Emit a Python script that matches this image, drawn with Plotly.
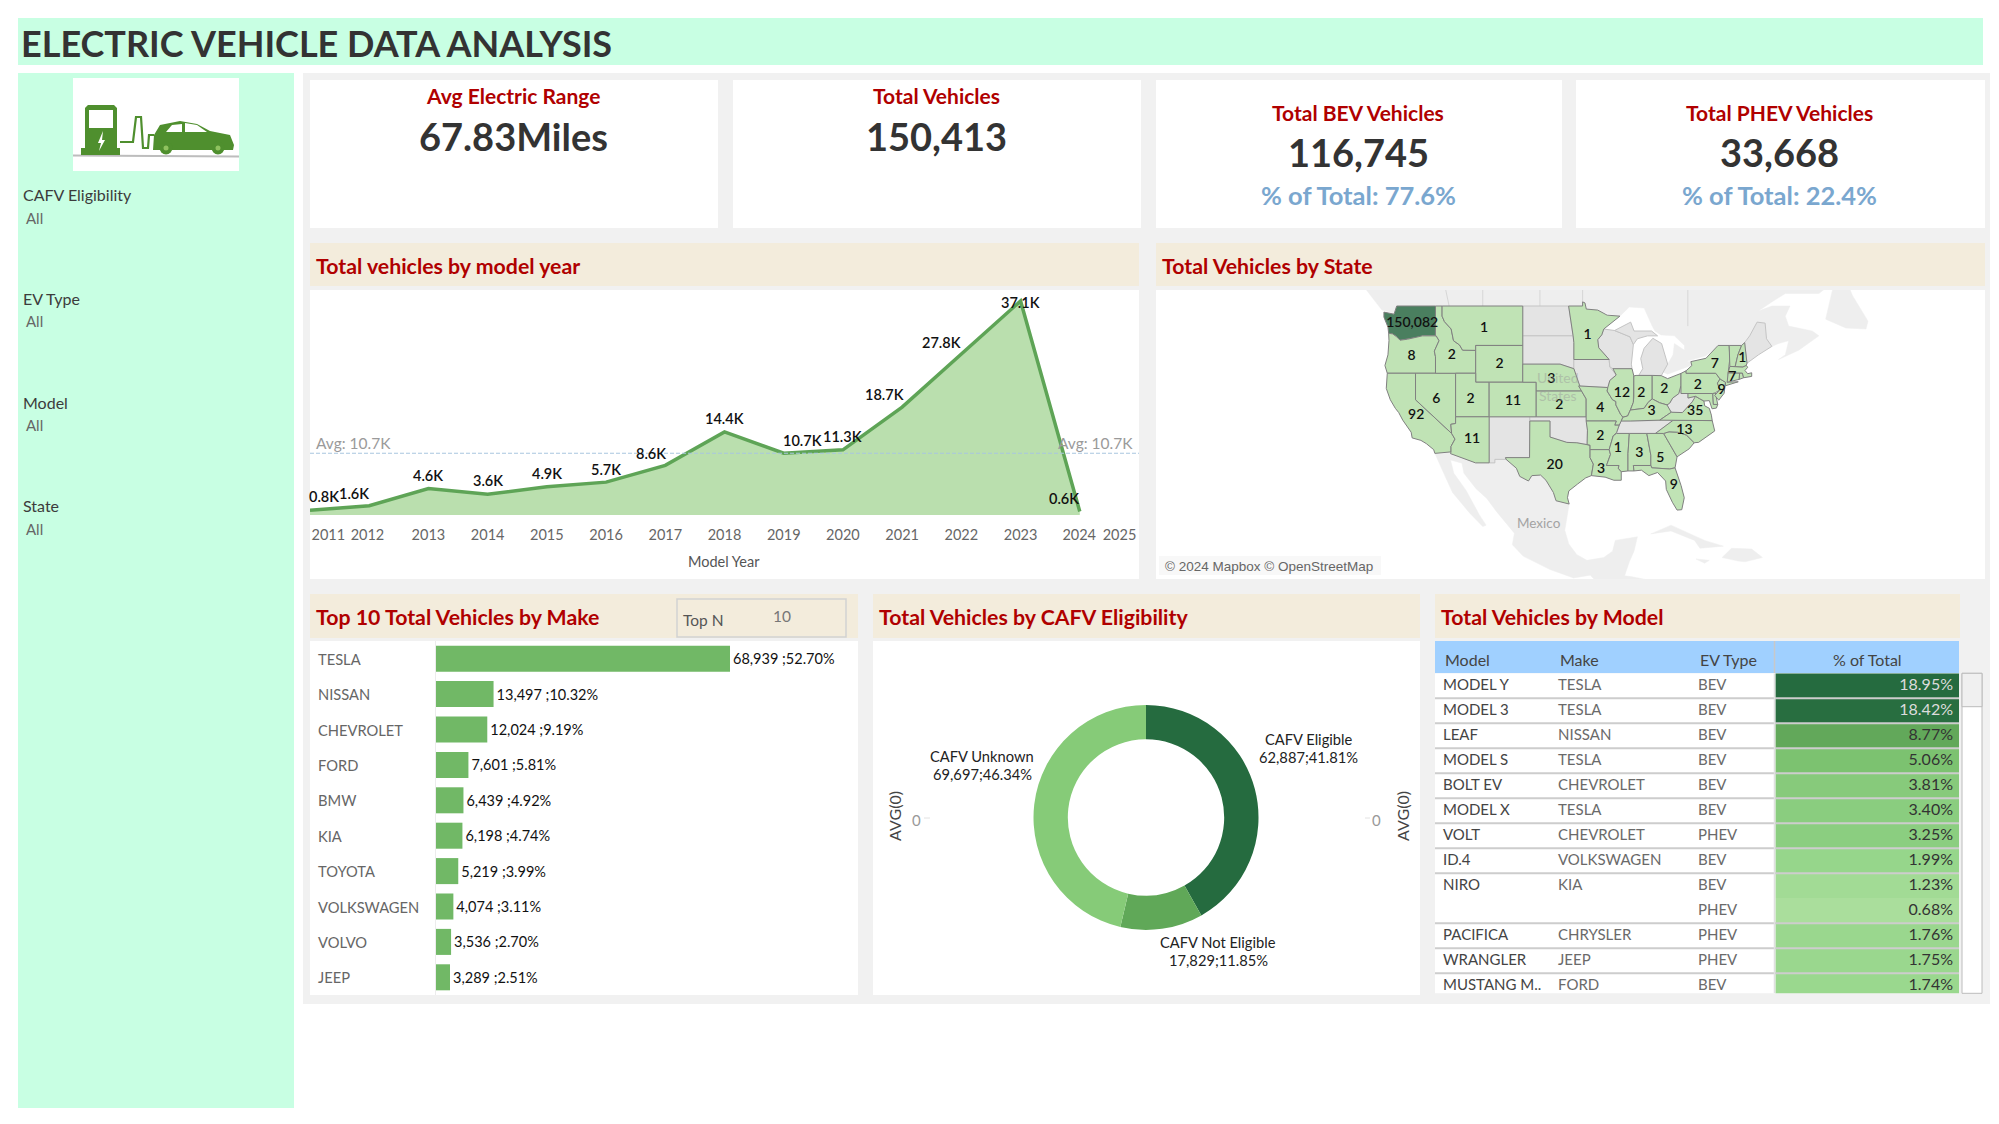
import math
import plotly.graph_objects as go

W, H = 1999, 1124
FONT = "Lato"

# ------------------ DATA ------------------
YEARS = [2011, 2012, 2013, 2014, 2015, 2016, 2017, 2018, 2019, 2020, 2021, 2022, 2023, 2024]
YEAR_TOTALS_K = [0.8, 1.6, 4.6, 3.6, 4.9, 5.7, 8.6, 14.4, 10.7, 11.3, 18.7, 27.8, 37.1, 0.6]
AVG_K = 10.7

MAKES = ["TESLA", "NISSAN", "CHEVROLET", "FORD", "BMW", "KIA", "TOYOTA", "VOLKSWAGEN", "VOLVO", "JEEP"]
MAKE_TOTALS = [68939, 13497, 12024, 7601, 6439, 6198, 5219, 4074, 3536, 3289]
MAKE_PCT = [52.70, 10.32, 9.19, 5.81, 4.92, 4.74, 3.99, 3.11, 2.70, 2.51]

CAFV_LABELS = ["CAFV Eligible", "CAFV Not Eligible", "CAFV Unknown"]
CAFV_TOTALS = [62887, 17829, 69697]
CAFV_PCT = [41.81, 11.85, 46.34]

TABLE_MODEL = ["MODEL Y", "MODEL 3", "LEAF", "MODEL S", "BOLT EV", "MODEL X", "VOLT", "ID.4", "NIRO", "", "PACIFICA", "WRANGLER", "MUSTANG M.."]
TABLE_MAKE = ["TESLA", "TESLA", "NISSAN", "TESLA", "CHEVROLET", "TESLA", "CHEVROLET", "VOLKSWAGEN", "KIA", "", "CHRYSLER", "JEEP", "FORD"]
TABLE_TYPE = ["BEV", "BEV", "BEV", "BEV", "BEV", "BEV", "PHEV", "BEV", "BEV", "PHEV", "PHEV", "PHEV", "BEV"]
TABLE_PCT = [18.95, 18.42, 8.77, 5.06, 3.81, 3.40, 3.25, 1.99, 1.23, 0.68, 1.76, 1.75, 1.74]

STATE_VALUES = {"WA": 150082, "OR": 8, "CA": 92, "NV": 6, "ID": 2, "MT": 1, "WY": 2, "UT": 2, "CO": 11, "AZ": 11,
                "TX": 20, "MN": 1, "NE": 3, "KS": 2, "MO": 4, "AR": 2, "LA": 3, "IL": 12, "IN": 2, "OH": 2, "KY": 3,
                "MS": 1, "AL": 3, "GA": 5, "FL": 9, "NC": 13, "VA": 35, "PA": 2, "NY": 7, "CT": 7, "NJ": 9, "NH": 1}
# states present in the data that carry no visible label
STATE_UNLABELLED = ["SC", "MD", "DE", "MA", "RI", "VT"]

# label anchor per state: longitude, Mercator-projected latitude (degrees)
STATE_LABEL_AT = {"WA": (-120.5, 53.8), "OR": (-120.6, 48.9), "CA": (-119.9, 40.0), "NV": (-116.9, 42.5), "ID": (-114.6, 49.0),
                  "MT": (-109.8, 53.0), "WY": (-107.5, 47.6), "UT": (-111.8, 42.5), "CO": (-105.5, 42.1), "AZ": (-111.6, 36.5),
                  "TX": (-99.3, 32.7), "MN": (-94.4, 51.95), "NE": (-99.8, 45.5), "KS": (-98.6, 41.6), "MO": (-92.5, 41.1),
                  "AR": (-92.5, 36.9), "LA": (-92.4, 32.1), "IL": (-89.3, 43.4), "IN": (-86.4, 43.4), "OH": (-83.0, 43.9),
                  "KY": (-84.9, 40.7), "MS": (-89.9, 35.2), "AL": (-86.7, 34.4), "GA": (-83.6, 33.7), "FL": (-81.6, 29.6),
                  "NC": (-80.0, 37.8), "VA": (-78.4, 40.7), "PA": (-78.0, 44.6), "NY": (-75.5, 47.6), "CT": (-72.9, 45.75),
                  "NJ": (-74.5, 43.8), "NH": (-71.4, 48.6)}

STATE_OUTLINES = {
    "WA": [(-124.7, 48.4), (-123.2, 48.2), (-122.8, 49), (-117.03, 49), (-117.04, 46), (-118.98, 46), (-119.3, 45.9), (-121.2, 45.65), (-122.3, 45.55), (-122.8, 45.9), (-123.4, 46.2), (-124, 46.27), (-124.1, 46.9), (-124.7, 47.9)],
    "OR": [(-124, 46.27), (-123.4, 46.2), (-122.8, 45.9), (-122.3, 45.55), (-121.2, 45.65), (-119.3, 45.9), (-118.98, 46), (-116.92, 46), (-116.5, 45.5), (-117.2, 44.4), (-117.03, 43.8), (-117.03, 42), (-124.2, 42), (-124.55, 42.85), (-124.1, 44), (-123.95, 45.5)],
    "CA": [(-124.2, 42), (-120, 42), (-120, 39), (-114.63, 35), (-114.13, 34.3), (-114.72, 33.4), (-114.72, 32.72), (-117.12, 32.53), (-117.3, 33), (-118.4, 33.75), (-119.2, 34.15), (-120.5, 34.45), (-120.65, 35.15), (-121.9, 36.6), (-122.5, 37.5), (-123, 38), (-123.75, 39), (-124.35, 40.3)],
    "NV": [(-120, 42), (-114.04, 42), (-114.04, 36.2), (-114.75, 36.1), (-114.63, 35), (-120, 39)],
    "ID": [(-117.03, 49), (-116.05, 49), (-116.05, 48), (-115.7, 47.45), (-114.7, 46.7), (-114.35, 45.5), (-113.45, 45.05), (-113, 44.5), (-111.05, 44.48), (-111.05, 42), (-117.03, 42), (-117.03, 43.8), (-117.2, 44.4), (-116.5, 45.5), (-116.92, 46), (-117.04, 46)],
    "MT": [(-116.05, 49), (-104.05, 49), (-104.05, 45), (-111.05, 45), (-111.05, 44.48), (-113, 44.5), (-113.45, 45.05), (-114.35, 45.5), (-114.7, 46.7), (-115.7, 47.45), (-116.05, 48)],
    "WY": [(-111.05, 45), (-104.05, 45), (-104.05, 41), (-111.05, 41)],
    "UT": [(-114.04, 42), (-111.05, 42), (-111.05, 41), (-109.05, 41), (-109.05, 37), (-114.04, 37)],
    "CO": [(-109.05, 41), (-102.05, 41), (-102.05, 37), (-109.05, 37)],
    "AZ": [(-114.04, 37), (-109.05, 37), (-109.05, 31.33), (-111.07, 31.33), (-114.8, 32.5), (-114.72, 32.72), (-114.72, 33.4), (-114.13, 34.3), (-114.63, 35), (-114.75, 36.1), (-114.04, 36.2)],
    "NM": [(-109.05, 37), (-103, 37), (-103.04, 32), (-106.62, 32), (-106.53, 31.78), (-108.2, 31.78), (-108.2, 31.33), (-109.05, 31.33)],
    "ND": [(-104.05, 49), (-97.23, 49), (-96.56, 46), (-104.05, 46)],
    "SD": [(-104.05, 46), (-96.56, 46), (-96.45, 45.3), (-96.45, 42.5), (-98.5, 43), (-104.05, 43)],
    "NE": [(-104.05, 43), (-98.5, 43), (-96.45, 42.5), (-95.3, 40), (-102.05, 40), (-102.05, 41), (-104.05, 41)],
    "KS": [(-102.05, 40), (-95.3, 40), (-94.62, 39.1), (-94.62, 37), (-102.05, 37)],
    "OK": [(-103, 37), (-94.62, 37), (-94.43, 35.4), (-94.48, 33.64), (-96, 33.85), (-97.5, 33.9), (-100, 34.56), (-100, 36.5), (-103, 36.5)],
    "TX": [(-103, 36.5), (-100, 36.5), (-100, 34.56), (-97.5, 33.9), (-96, 33.85), (-94.48, 33.64), (-94.04, 33.55), (-94.04, 31.99), (-93.55, 31.18), (-93.84, 29.7), (-94.7, 29.4), (-95.9, 28.6), (-97.2, 27.7), (-97.4, 26.8), (-97.15, 25.96), (-99.1, 26.4), (-99.5, 27.5), (-100.6, 29.1), (-101.4, 29.77), (-102.7, 29.7), (-103.2, 29), (-104.5, 29.6), (-105, 30.65), (-106.53, 31.78), (-106.62, 32), (-103.04, 32)],
    "MN": [(-97.23, 49), (-95.15, 49), (-95.15, 49.4), (-94.8, 49.3), (-94.6, 48.7), (-92.9, 48.6), (-91.5, 48.1), (-89.6, 48), (-92, 46.7), (-92.3, 46.1), (-92.9, 45.6), (-92.75, 44.75), (-91.2, 43.5), (-96.45, 43.5), (-96.45, 45.3), (-96.56, 46)],
    "IA": [(-96.45, 43.5), (-91.2, 43.5), (-91.1, 42.7), (-90.15, 41.8), (-91.1, 41.2), (-91.4, 40.4), (-95.75, 40.58), (-96.45, 42.5)],
    "MO": [(-95.75, 40.58), (-91.4, 40.4), (-91.5, 40), (-90.7, 39), (-90.2, 38.8), (-90.2, 38.4), (-89.5, 37.3), (-89.15, 36.95), (-89.7, 36), (-90.37, 36), (-90.15, 36.5), (-94.62, 36.5), (-94.62, 39.1), (-95.3, 40)],
    "AR": [(-94.62, 36.5), (-90.15, 36.5), (-90.37, 36), (-89.7, 36), (-90.1, 35.1), (-90.6, 34.7), (-91.2, 33), (-94.04, 33), (-94.04, 33.55), (-94.48, 33.64), (-94.43, 35.4)],
    "LA": [(-94.04, 33), (-91.2, 33), (-91, 32.4), (-91.6, 31), (-89.73, 31), (-89.85, 30.65), (-89.4, 30.2), (-89.4, 29.1), (-90.5, 29.1), (-91.8, 29.5), (-93.84, 29.7), (-93.55, 31.18), (-94.04, 31.99)],
    "WI": [(-92.3, 46.1), (-92, 46.7), (-90.4, 46.55), (-88.1, 45.9), (-87.6, 45.1), (-87.9, 43), (-87.8, 42.5), (-90.65, 42.5), (-91.1, 42.7), (-91.2, 43.5), (-92.75, 44.75), (-92.9, 45.6)],
    "IL": [(-90.65, 42.5), (-87.8, 42.5), (-87.53, 41.7), (-87.53, 39.35), (-87.6, 38.7), (-88.05, 37.8), (-88.45, 37.1), (-89.15, 36.95), (-89.5, 37.3), (-90.2, 38.4), (-90.2, 38.8), (-90.7, 39), (-91.5, 40), (-91.4, 40.4), (-91.1, 41.2), (-90.15, 41.8)],
    "IN": [(-87.53, 41.7), (-87.2, 41.76), (-84.8, 41.76), (-84.8, 39.1), (-85.4, 38.7), (-86, 38), (-87, 37.9), (-88.05, 37.8), (-87.6, 38.7), (-87.53, 39.35)],
    "OH": [(-84.8, 41.76), (-83.45, 41.73), (-82.5, 41.4), (-81.2, 41.75), (-80.52, 41.98), (-80.52, 40.64), (-80.85, 39.7), (-81.75, 39.2), (-82.2, 38.6), (-82.6, 38.4), (-83.7, 38.65), (-84.8, 39.1)],
    "MI": [(-86.8, 41.76), (-84.8, 41.76), (-83.45, 41.73), (-82.5, 43), (-82.9, 44), (-83.4, 45.2), (-84.7, 45.75), (-86, 44.7), (-86.5, 43.6), (-86.2, 42.5)],
    "MI2": [(-90.4, 46.55), (-88, 47.4), (-87.5, 46.5), (-84.9, 46.5), (-84, 46), (-85.5, 46), (-87, 45.7), (-87.6, 45.1), (-88.1, 45.9)],
    "KY": [(-89.15, 36.95), (-88.45, 37.1), (-88.05, 37.8), (-87, 37.9), (-86, 38), (-85.4, 38.7), (-84.8, 39.1), (-83.7, 38.65), (-82.6, 38.4), (-81.97, 37.54), (-83.68, 36.6), (-88.07, 36.5), (-89.4, 36.5)],
    "TN": [(-89.7, 36), (-89.4, 36.5), (-88.07, 36.5), (-83.68, 36.6), (-81.68, 36.59), (-84.32, 35), (-90.1, 35)],
    "MS": [(-90.1, 35), (-88.2, 35), (-88.4, 32.5), (-88.4, 30.3), (-89.4, 30.2), (-89.85, 30.65), (-89.73, 31), (-91.6, 31), (-91, 32.4), (-91.2, 33), (-90.6, 34.7)],
    "AL": [(-88.2, 35), (-85.6, 35), (-85, 32.3), (-85, 31), (-87.6, 31), (-87.5, 30.3), (-88.4, 30.3), (-88.4, 32.5)],
    "GA": [(-85.6, 35), (-83.1, 35), (-81.1, 32.1), (-81.4, 30.7), (-82.2, 30.55), (-84.86, 30.7), (-85, 31), (-85, 32.3)],
    "FL": [(-87.6, 31), (-85, 31), (-84.86, 30.7), (-82.2, 30.55), (-81.4, 30.7), (-80.5, 28.4), (-80.03, 26.8), (-80.4, 25.2), (-81.1, 25.15), (-81.8, 26.2), (-82.7, 27.9), (-82.8, 29), (-84, 30.1), (-85.3, 29.7), (-86.4, 30.4), (-87.5, 30.3)],
    "SC": [(-83.1, 35), (-82.3, 35.2), (-81, 35.15), (-79.7, 34.8), (-78.55, 33.86), (-79.3, 33.1), (-81.1, 32.1)],
    "NC": [(-84.32, 35), (-83.1, 35), (-82.3, 35.2), (-81, 35.15), (-79.7, 34.8), (-78.55, 33.86), (-77.9, 33.9), (-76.5, 34.7), (-75.5, 35.3), (-75.87, 36.55), (-81.68, 36.59)],
    "VA": [(-83.68, 36.6), (-81.68, 36.59), (-75.87, 36.55), (-76, 37.2), (-76.3, 38), (-77, 38.3), (-77.1, 38.85), (-77.8, 39.15), (-78.35, 39.4), (-78.85, 38.75), (-80.3, 37.5), (-81.97, 37.54)],
    "WV": [(-82.6, 38.4), (-82.2, 38.6), (-81.75, 39.2), (-80.85, 39.7), (-80.52, 40.64), (-80.52, 39.72), (-79.48, 39.72), (-79.48, 39.2), (-78.35, 39.4), (-77.8, 39.15), (-78.85, 38.75), (-80.3, 37.5), (-81.97, 37.54)],
    "MD": [(-79.48, 39.72), (-75.79, 39.72), (-75.7, 38.46), (-75.05, 38.45), (-75.25, 38.03), (-75.9, 37.95), (-76.3, 38.9), (-77.1, 38.85), (-77.8, 39.15), (-78.35, 39.4), (-79.48, 39.2)],
    "DE": [(-75.79, 39.72), (-75.4, 39.8), (-75.05, 38.45), (-75.7, 38.46)],
    "PA": [(-80.52, 41.98), (-79.76, 42.27), (-79.76, 42), (-75.35, 42), (-74.7, 41.36), (-75.1, 40.9), (-74.72, 40.15), (-75.4, 39.8), (-75.79, 39.72), (-80.52, 39.72)],
    "NJ": [(-74.7, 41.36), (-73.9, 41), (-74, 40.4), (-74.1, 39.75), (-74.9, 38.95), (-75.5, 39.5), (-74.72, 40.15), (-75.1, 40.9)],
    "NY": [(-79.76, 42.27), (-78.9, 42.85), (-79.05, 43.27), (-76.8, 43.63), (-76.2, 44.1), (-75, 45), (-73.35, 45), (-73.25, 43.6), (-73.5, 42.05), (-73.5, 41.3), (-73.65, 41), (-72, 41.05), (-73.9, 40.6), (-73.9, 41), (-74.7, 41.36), (-75.35, 42), (-79.76, 42)],
    "CT": [(-73.5, 42.05), (-71.8, 42.02), (-71.85, 41.32), (-73.65, 41)],
    "RI": [(-71.8, 42.02), (-71.38, 42.02), (-71.2, 41.5), (-71.85, 41.32)],
    "MA": [(-73.5, 42.05), (-73.25, 42.75), (-71.3, 42.7), (-70.8, 42.87), (-70.6, 42.65), (-71, 42.3), (-70.6, 41.95), (-70, 42.05), (-70, 41.65), (-71.2, 41.5), (-71.38, 42.02)],
    "VT": [(-73.25, 42.75), (-72.46, 42.73), (-72.05, 44), (-71.5, 45), (-73.35, 45), (-73.25, 43.6)],
    "NH": [(-72.46, 42.73), (-71.3, 42.7), (-70.8, 42.87), (-70.7, 43.1), (-71.05, 45.3), (-71.5, 45), (-72.05, 44)],
    "ME": [(-71.05, 45.3), (-70.7, 43.1), (-69, 44), (-67, 44.9), (-67.8, 45.7), (-68, 47.3), (-69.2, 47.4), (-70.3, 46)],
}
LAND_OUTLINES = {
    "Canada": [(-129, 52), (-127.5, 50.7), (-125, 48.6), (-123.3, 48.3), (-122.8, 49), (-95.15, 49), (-94.6, 48.7), (-89.6, 48), (-88.2, 48.9), (-86, 48.8), (-84.8, 47), (-84.4, 46.5), (-83.5, 46.1), (-81.5, 46), (-80, 45), (-80, 44.5), (-81.5, 45.2), (-81.7, 44), (-82.5, 43), (-83.1, 42.1), (-82.5, 41.9), (-79, 42.85), (-79.05, 43.27), (-79.7, 43.3), (-76.8, 43.9), (-75, 45), (-71.5, 45), (-70.3, 46), (-69.2, 47.4), (-68, 47.3), (-67.8, 45.7), (-67, 44.9), (-66, 45.2), (-64.5, 45.5), (-65, 44), (-66, 43.5), (-63, 44.5), (-60, 46), (-61, 46.5), (-64.5, 47), (-65, 48), (-64.3, 49), (-67, 49), (-69, 48.5), (-67, 49.4), (-65, 50.2), (-60, 50.2), (-57, 51.7), (-57, 52), (-129, 52)],
    "Newfoundland": [(-59, 47.7), (-56, 46.8), (-53, 46.7), (-52.7, 47.5), (-55, 50), (-56, 51.5), (-58, 50.5)],
    "Mexico": [(-117.12, 32.53), (-114.72, 32.72), (-114.8, 32.5), (-111.07, 31.33), (-108.2, 31.33), (-108.2, 31.78), (-106.53, 31.78), (-105, 30.65), (-104.5, 29.6), (-103.2, 29), (-102.7, 29.7), (-101.4, 29.77), (-100.6, 29.1), (-99.5, 27.5), (-99.1, 26.4), (-97.15, 25.96), (-97.8, 22.4), (-97.2, 20.5), (-96, 19), (-94.5, 18.2), (-92, 18.6), (-90.7, 19.5), (-90.3, 21), (-87, 21.5), (-87.5, 19.5), (-88.2, 18), (-88.9, 16), (-88, 15.9), (-83.3, 15), (-83.3, 14), (-92, 14), (-94, 16.1), (-96.5, 15.7), (-100, 16.9), (-104, 18.8), (-105.6, 20.4), (-105.3, 22), (-108, 25), (-109.4, 26.7), (-111, 28), (-112.8, 30), (-113.1, 31.3), (-114.8, 31.7), (-114.3, 30), (-112.5, 27.8), (-110.5, 24.5), (-109.5, 23.1), (-110, 22.9), (-112, 24.8), (-114.5, 27.5), (-115.7, 29.8)],
    "Cuba": [(-85, 21.9), (-82, 23.1), (-77, 21), (-74.2, 20.2), (-77.7, 19.9), (-78.5, 21), (-82, 22.3)],
    "Hispaniola": [(-74.4, 18.6), (-73, 19.9), (-70, 19.8), (-68.4, 18.6), (-71, 18), (-72, 18.1)],
    "Jamaica": [(-78.3, 18.4), (-76.3, 18.2), (-77, 17.8)],
}
PROVINCE_LINES = [[(-115, 49), (-116, 52)], [(-110, 49), (-110, 52)], [(-101.5, 49), (-101.5, 52)],
                  [(-95.15, 49), (-95.15, 52)], [(-79.5, 47), (-79.5, 52)]]

# ------------------ COLOURS ------------------
MINT = "#c8ffe3"
PANEL_GREY = "#f1f1f1"
HEADER_BEIGE = "#f3ecdc"
RED = "#b00000"
DARK = "#333333"
BLUE_TXT = "#7aa7cf"
LAND = "#eeeeee"
GREY_STATE = "#e4e4e4"
HEAT_STOPS = [(0.68, "#aade9c"), (1.99, "#96d68b"), (5.06, "#7cc270"), (8.77, "#62a85a"), (18.95, "#256b3f")]


def fx(px):
    return px / W


def fy(py):
    return 1 - py / H


shapes, annots = [], []


def rect(x0, y0, x1, y1, color, line=None, lw=1):
    shapes.append(dict(type="rect", xref="paper", yref="paper", x0=fx(x0), x1=fx(x1), y0=fy(y0), y1=fy(y1),
                       fillcolor=color, line=dict(color=line or color, width=lw if line else 0), layer="below"))


def poly(pts, color, line_width=0, line_color=None):
    path = "M " + " L ".join(f"{fx(x):.5f},{fy(y):.5f}" for x, y in pts) + " Z"
    shapes.append(dict(type="path", xref="paper", yref="paper", path=path, fillcolor=color,
                       line=dict(color=line_color or color, width=line_width), layer="below"))


def polyline(pts, color, width):
    path = "M " + " L ".join(f"{fx(x):.5f},{fy(y):.5f}" for x, y in pts)
    shapes.append(dict(type="path", xref="paper", yref="paper", path=path, line=dict(color=color, width=width), layer="below"))


def disc(cx, cy, r, color):
    shapes.append(dict(type="circle", xref="paper", yref="paper", x0=fx(cx - r), x1=fx(cx + r), y0=fy(cy - r), y1=fy(cy + r),
                       fillcolor=color, line=dict(width=0), layer="below"))


def text(x, y, s, size, color=DARK, bold=False, anchor="center", angle=0, family=FONT, opacity=1):
    annots.append(dict(xref="paper", yref="paper", x=fx(x), y=fy(y), text=s, showarrow=False, xanchor=anchor, yanchor="middle",
                       textangle=angle, opacity=opacity,
                       font=dict(size=size, color=color, family=family, weight=700 if bold else 400)))


# ------------------ DASHBOARD FURNITURE ------------------
rect(18, 18, 1983, 65, MINT)
text(19, 43, "ELECTRIC VEHICLE DATA ANALYSIS", 36, DARK, True, "left")
rect(18, 73, 294, 1108, MINT)
rect(303, 73, 1990, 1004, PANEL_GREY)

for x0, x1 in [(310, 718), (733, 1141), (1156, 1562), (1576, 1985)]:
    rect(x0, 80, x1, 228, "white")
text(513, 96, "Avg Electric Range", 21, RED, True)
text(513, 136, "67.83Miles", 38, DARK, True)
text(936, 96, "Total Vehicles", 21, RED, True)
text(936, 136, "150,413", 38, DARK, True)
text(1358, 112, "Total BEV Vehicles", 21, RED, True)
text(1358, 152, "116,745", 38, DARK, True)
text(1358, 195, "% of Total: 77.6%", 25.5, BLUE_TXT, True)
text(1779, 112, "Total PHEV Vehicles", 21, RED, True)
text(1779, 152, "33,668", 38, DARK, True)
text(1779, 195, "% of Total: 22.4%", 25.5, BLUE_TXT, True)

# section headers
for x0, y0, x1, y1, s in [(310, 243, 1139, 286, "Total vehicles by model year"), (1156, 243, 1985, 286, "Total Vehicles by State"),
                          (310, 594, 858, 638, "Top 10 Total Vehicles by Make"), (873, 594, 1420, 638, "Total Vehicles by CAFV Eligibility"),
                          (1435, 594, 1960, 638, "Total Vehicles by Model")]:
    rect(x0, y0, x1, y1, HEADER_BEIGE)
    text(x0 + 4, (y0 + y1) / 2 + 1, s, 21.3, RED, True, "left")
# chart panels
rect(310, 290, 1139, 579, "white")
rect(1156, 290, 1985, 579, "white")
rect(310, 641, 858, 995, "white")
rect(873, 641, 1420, 995, "white")

# sidebar filters
for name, y in [("CAFV Eligibility", 195), ("EV Type", 298.5), ("Model", 402.5), ("State", 506)]:
    text(21, y, name, 16, "#3c3c3c", False, "left")
    text(24, y + 22.5, "All", 15, "#666666", False, "left")

# logo
rect(73, 78, 239, 171, "white")
LOGO = "#4f8f2e"
polyline([(73, 155.5), (239, 156.5)], "#bdbdbd", 2)
poly([(85, 108), (88, 105), (114, 105), (117, 108), (117, 148), (120, 148), (120, 155), (81, 155), (81, 148), (85, 148)], LOGO)
poly([(89, 110), (113, 110), (113, 128), (89, 128)], "white")
poly([(103, 131), (98, 143), (101, 143), (99, 151), (105, 140), (102, 140)], "white")
polyline([(120, 142), (133, 142), (136, 117), (141, 117), (143, 148), (148, 148), (149, 135), (154, 135)], LOGO, 2.2)
poly([(153, 150), (154, 135), (160, 125), (180, 121), (197, 124), (210, 131), (230, 135), (234, 145), (233, 150)], LOGO)
poly([(166, 132), (172, 125), (182, 124), (182, 132)], "white")
poly([(185, 132), (185, 123), (197, 125), (207, 132)], "white")
disc(166, 148, 6.5, LOGO)
disc(218, 148, 6.5, LOGO)
disc(166, 148, 2.5, "#8fc25f")
disc(218, 148, 2.5, "#8fc25f")

# Top N control
rect(677, 599, 846, 637, HEADER_BEIGE, "#d2d2d2", 1.5)
text(681, 620, "Top N", 15.5, "#555555", False, "left")
text(782, 616, "10", 15.5, "#777777")

# ------------------ FIGURE ------------------
fig = go.Figure()

# --- line / area chart
PX_TOP, PX_BASE = 290, 515
fig.add_trace(go.Scatter(x=YEARS, y=YEAR_TOTALS_K, mode="lines", xaxis="x", yaxis="y", fill="tozeroy",
                         fillcolor="#badfae", line=dict(color="#5ea456", width=3.5), hoverinfo="skip", showlegend=False))
fig.add_trace(go.Scatter(x=[2011, 2025], y=[AVG_K, AVG_K], mode="lines", xaxis="x", yaxis="y",
                         line=dict(color="#a9c6e0", width=1.2, dash="4px,2px"), hoverinfo="skip", showlegend=False))
LABEL_SHIFT = {2011: (14, 14), 2012: (-15, 12), 2013: (0, 13), 2014: (0, 14), 2015: (0, 13), 2016: (0, 13), 2017: (-14, 12),
               2018: (0, 13), 2019: (19, 13), 2020: (0, 13), 2021: (-18, 13), 2022: (-20, 12), 2023: (0, -2), 2024: (-16, 13)}
for yr, v in zip(YEARS, YEAR_TOTALS_K):
    dx, dy = LABEL_SHIFT[yr]
    annots.append(dict(xref="x", yref="y", x=yr, y=v, text=f"{v}K", showarrow=False, xshift=dx, yshift=dy,
                       font=dict(size=14.5, color="#111111", family=FONT, weight=600)))
text(313.5, 443, "Avg: 10.7K", 15.5, "#9a9a9a", False, "left")
text(1135, 443, "Avg: 10.7K", 15.5, "#9a9a9a", False, "right")
text(724, 561, "Model Year", 14.5, "#555555")
TICK_NUDGE = {2011: 0.31, 2012: -0.03, 2024: -0.01, 2025: -0.33}
tick_years = YEARS + [2025]
fig.update_layout(
    xaxis=dict(domain=[fx(310), fx(1139)], range=[2011, 2025], anchor="y", tickvals=[y + TICK_NUDGE.get(y, 0) for y in tick_years],
               ticktext=[str(y) for y in tick_years], tickfont=dict(size=14.5, color="#666666", family=FONT), ticks="outside",
               ticklen=7, tickcolor="rgba(0,0,0,0)", showgrid=False, zeroline=False, showline=False),
    yaxis=dict(domain=[fy(PX_BASE), fy(PX_TOP)], range=[0, 39], anchor="x", visible=False),
)


# --- state map (Web Mercator)
def merc(lat):
    return math.degrees(math.log(math.tan(math.pi / 4 + math.radians(lat) / 2)))


def add_region(outline, fill, line_color, lw):
    fig.add_trace(go.Scatter(x=[p[0] for p in outline] + [outline[0][0]], y=[merc(p[1]) for p in outline] + [merc(outline[0][1])],
                             mode="lines", fill="toself", fillcolor=fill, line=dict(color=line_color, width=lw),
                             xaxis="x2", yaxis="y2", hoverinfo="skip", showlegend=False))


for outline in LAND_OUTLINES.values():
    add_region(outline, LAND, LAND, 0.5)
for seg in PROVINCE_LINES:
    fig.add_trace(go.Scatter(x=[p[0] for p in seg], y=[merc(p[1]) for p in seg], mode="lines", line=dict(color="#d6d6d6", width=1),
                             xaxis="x2", yaxis="y2", hoverinfo="skip", showlegend=False))
coloured = set(STATE_VALUES) | set(STATE_UNLABELLED)
for code, outline in STATE_OUTLINES.items():
    if code not in coloured:
        add_region(outline, GREY_STATE, "#c4c4c4", 1)
for code, outline in STATE_OUTLINES.items():
    if code in coloured:
        fill = "#4a7f5f" if STATE_VALUES.get(code, 0) > 1000 else "#c0e3b5"
        add_region(outline, fill, "#808080", 1)

text(1557, 387, "United<br>States", 14, "#999999", opacity=0.45)
text(1539, 523, "Mexico", 13.5, "#a3a3a3")

label_codes = list(STATE_VALUES)
fig.add_trace(go.Scatter(x=[STATE_LABEL_AT[c][0] for c in label_codes], y=[STATE_LABEL_AT[c][1] for c in label_codes],
                         mode="text", text=[f"{STATE_VALUES[c]:,}" for c in label_codes], textposition="middle center",
                         textfont=dict(size=14, color="#111111", family=FONT, weight=600),
                         xaxis="x2", yaxis="y2", hoverinfo="skip", showlegend=False))
fig.update_layout(
    xaxis2=dict(domain=[fx(1156), fx(1985)], range=[-158.6, -35.3], anchor="y2", visible=False),
    yaxis2=dict(domain=[fy(579), fy(290)], range=[15.74, 58.75], anchor="x2", visible=False),
)
rect(1159, 556, 1381, 575, "#f8f8f8")
shapes[-1]["layer"] = "above"
text(1163, 566, "© 2024 Mapbox © OpenStreetMap", 13.5, "#666666", False, "left", family="Liberation Sans")

# --- top makes bar chart
fig.add_trace(go.Bar(y=MAKES, x=MAKE_TOTALS, orientation="h", xaxis="x3", yaxis="y3", marker=dict(color="#71b866", line=dict(width=0)),
                     text=[f"{v:,} ;{p:.2f}%" for v, p in zip(MAKE_TOTALS, MAKE_PCT)], textposition="outside",
                     textfont=dict(size=14.5, color="#111111", family=FONT), cliponaxis=False, hoverinfo="skip", showlegend=False))
fig.update_layout(
    xaxis3=dict(domain=[fx(436), fx(858)], range=[0, 98950], anchor="y3", visible=False),
    yaxis3=dict(domain=[fy(995), fy(641)], categoryorder="array", categoryarray=MAKES, autorange="reversed", anchor="x3", visible=True,
                showticklabels=False, ticks="", showgrid=False, zeroline=False, showline=True, linecolor="#ececec", linewidth=1),
    bargap=0.265,
)
for m in MAKES:
    annots.append(dict(xref="paper", yref="y3", x=fx(316), y=m, text=m, showarrow=False, xanchor="left",
                       font=dict(size=14.7, color="#666666", family=FONT)))

# --- CAFV donut
CX, CY, R = 1146, 817.5, 112.5
fig.add_trace(go.Pie(labels=CAFV_LABELS, values=CAFV_TOTALS, hole=0.695, sort=False, direction="clockwise", rotation=0,
                     marker=dict(colors=["#256b3f", "#60a858", "#86cb78"], line=dict(width=0)), textinfo="none", hoverinfo="skip",
                     domain=dict(x=[fx(CX - R), fx(CX + R)], y=[fy(CY + R), fy(CY - R)]), showlegend=False))
for (lx, ly), name, tot, pct in zip([(1308, 748), (1218, 950.5), (982, 765)], CAFV_LABELS, CAFV_TOTALS, CAFV_PCT):
    text(lx, ly - 9, name, 14.7, "#222222")
    text(lx, ly + 9, f"{tot:,};{pct:.2f}%", 14.7, "#222222")
text(894, 816, "AVG(0)", 16, "#444444", angle=-90)
text(1402, 816, "AVG(0)", 16, "#444444", angle=-90)
text(916, 820, "0", 15, "#999999")
text(1376, 820, "0", 15, "#999999")
polyline([(924, 818), (930, 818)], "#e2e2e2", 1)
polyline([(1365, 818), (1370, 818)], "#e2e2e2", 1)

# --- model table
T_X0, T_X1, PCT_X0 = 1435, 1959, 1775.5
rect(T_X0, 641, T_X1, 673.3, "#a0d0ff")
shapes.append(dict(type="line", xref="paper", yref="paper", x0=fx(PCT_X0 - 1), x1=fx(PCT_X0 - 1), y0=fy(641), y1=fy(673.3),
                   line=dict(color="#c8c8c8", width=1.5), layer="below"))
rect(T_X0, 673.3, T_X1, 993.3, "white")
for s, x in [("Model", 1443), ("Make", 1558), ("EV Type", 1698)]:
    text(x, 659, s, 16, "#444444", False, "left")
text(1867, 659, "% of Total", 16, "#444444")
rows = list(range(len(TABLE_PCT)))
lo, hi = HEAT_STOPS[0][0], HEAT_STOPS[-1][0]
fig.add_trace(go.Heatmap(z=[[p] for p in TABLE_PCT], x0=(PCT_X0 - T_X0 + T_X1 - T_X0) / 2, dx=T_X1 - PCT_X0, y=rows, xaxis="x4", yaxis="y4",
                         zmin=lo, zmax=hi, colorscale=[[(v - lo) / (hi - lo), c] for v, c in HEAT_STOPS], showscale=False, hoverinfo="skip"))
for col, x, color in [(TABLE_MODEL, 8, "#444444"), (TABLE_MAKE, 123, "#6a6a6a"), (TABLE_TYPE, 263, "#6a6a6a")]:
    fig.add_trace(go.Scatter(x=[x] * len(rows), y=rows, mode="text", text=col, textposition="middle right",
                             textfont=dict(size=15, color=color, family=FONT), xaxis="x4", yaxis="y4", hoverinfo="skip", showlegend=False))
fig.add_trace(go.Scatter(x=[518] * len(rows), y=rows, mode="text", text=[f"{p:.2f}%" for p in TABLE_PCT], textposition="middle left",
                         textfont=dict(size=16, color=["#dcdcdc" if p > 15 else "#333333" for p in TABLE_PCT], family=FONT),
                         xaxis="x4", yaxis="y4", hoverinfo="skip", showlegend=False))
for r in rows:
    if r != 8:
        shapes.append(dict(type="line", xref="x4", yref="y4", x0=0, x1=T_X1 - T_X0, y0=r + 0.5, y1=r + 0.5,
                           line=dict(color="#cdcdcd", width=2), layer="above"))
shapes.append(dict(type="line", xref="x4", yref="y4", x0=PCT_X0 - T_X0 - 1, x1=PCT_X0 - T_X0 - 1, y0=-0.5, y1=12.3,
                   line=dict(color="#e0e0e0", width=1.5), layer="above"))
fig.update_layout(
    xaxis4=dict(domain=[fx(T_X0), fx(T_X1)], range=[0, T_X1 - T_X0], anchor="y4", visible=False),
    yaxis4=dict(domain=[fy(993.3), fy(673.3)], range=[12.3, -0.5], anchor="x4", visible=False),
)
# scrollbar
rect(1962, 673.3, 1982, 993.3, "white", "#bcbcbc", 1)
rect(1962, 673.3, 1982, 706.7, "#f0f0f0", "#bcbcbc", 1)

fig.update_layout(
    width=W, height=H, margin=dict(l=0, r=0, t=0, b=0, pad=0), autosize=False,
    paper_bgcolor="white", plot_bgcolor="rgba(0,0,0,0)", showlegend=False, hovermode=False,
    shapes=shapes, annotations=annots, font=dict(family=FONT),
)

fig.write_html("out.html", config=dict(displayModeBar=False),
               post_script="document.body.style.margin='0';document.body.style.overflow='hidden';")
